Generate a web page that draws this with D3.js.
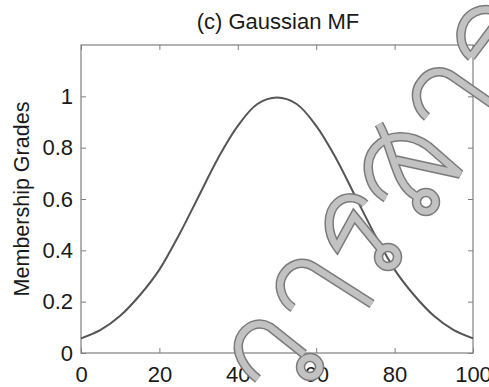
<!DOCTYPE html>
<html lang="en">
  <meta charset="UTF-8" />
  <title>Gaussian MF</title>
  <style>
    body { margin: 0; background: #fff; }
    text { font-family: "Liberation Sans", Arial, sans-serif; fill: #1a1a1a; }
  </style>
  <script src="https://d3js.org/d3.v7.min.js"></script>
  <body>
    <div id="chart"></div>
    <script>
      // values
      const xValues = [0, 5, 10, 15, 20, 25, 30, 35, 40, 45, 50, 55, 60, 65, 70, 75, 80, 85, 90, 95, 100];
      const grades = [0.057, 0.09, 0.145, 0.225, 0.325, 0.46, 0.61, 0.76, 0.885, 0.97, 0.995,
                      0.97, 0.885, 0.76, 0.61, 0.46, 0.325, 0.225, 0.145, 0.09, 0.057];
      const xTicks = [0, 20, 40, 60, 80, 100];
      const yTicks = [0, 0.2, 0.4, 0.6, 0.8, 1];
      const yTickLabels = ["0", "0.2", "0.4", "0.6", "0.8", "1"];

      var margin = { top: 45, right: 16, bottom: 34, left: 81 },
        width = 489 - margin.left - margin.right,
        height = 387 - margin.top - margin.bottom;

      var svg = d3.select("#chart").append("svg")
        .attr("width", 489).attr("height", 387);
      var g = svg.append("g")
        .attr("transform", "translate(" + margin.left + "," + margin.top + ")");

      var x = d3.scaleLinear().domain([0, 100]).range([0, width]);
      var y = d3.scaleLinear().domain([0, 1.2]).range([height, 0]);

      // box + inward ticks on all sides
      var axisColor = "#7f7f7f";
      function styleAxis(sel) {
        sel.select(".domain").remove();
        sel.selectAll(".tick line").attr("stroke", axisColor);
        sel.selectAll("text").style("font-size", "22px").attr("fill", "#1a1a1a");
      }
      g.append("g").attr("transform", "translate(0," + height + ")")
        .call(d3.axisBottom(x).tickValues(xTicks).tickSize(-5).tickPadding(13))
        .call(styleAxis);
      g.append("g")
        .call(d3.axisTop(x).tickValues(xTicks).tickSize(-5).tickFormat(""))
        .call(styleAxis);
      g.append("g")
        .call(d3.axisLeft(y).tickValues(yTicks).tickSize(-5).tickPadding(8)
          .tickFormat((d, i) => yTickLabels[i]))
        .call(styleAxis);
      g.append("g").attr("transform", "translate(" + width + ",0)")
        .call(d3.axisRight(y).tickValues(yTicks).tickSize(-5).tickFormat(""))
        .call(styleAxis);
      g.append("rect").attr("width", width).attr("height", height)
        .attr("fill", "none").attr("stroke", axisColor).attr("stroke-width", 1.2);

      // curve
      var line = d3.line()
        .x((d, i) => x(xValues[i]))
        .y((d) => y(d))
        .curve(d3.curveCatmullRom);
      g.append("path").datum(grades)
        .attr("d", line)
        .attr("fill", "none")
        .attr("stroke", "#555")
        .attr("stroke-width", 2);

      // title and y label
      svg.append("text").attr("x", 278).attr("y", 29)
        .attr("text-anchor", "middle").style("font-size", "22px")
        .text("(c) Gaussian MF");
      svg.append("text")
        .attr("transform", "translate(29,199) rotate(-90)")
        .attr("text-anchor", "middle").style("font-size", "21.5px")
        .text("Membership Grades");

      // watermark overlay (outlined grey strokes)
      var wmPaths = [
        "M258,379 C244,368 234,352 240,338 C246,326 258,320 270,327 L304,354",
        "M293,308 C281,300 277,285 283,275 C289,265 301,259 314,267 L372,304",
        "M365,204 C357,196 345,196 337,203 C327,212 326,232 337,247 L354,216 L381,249",
        "M379,124 C388,140 392,160 400,178 C406,190 412,195 419,197",
        "M386,198 C368,188 362,162 376,147 C388,134 410,133 428,146 L460,174 L396,160",
        "M471,57 C456,45 458,20 475,12 C485,7 495,10 500,15",
        "M471,57 L495,25",
        "M427,117 C416,108 413,92 421,82 C428,72 440,68 452,76 L495,106"
      ];
      var wmLoops = [[310, 367, 9.5], [388, 257, 9.5], [426, 202, 9.5]];
      var wm = svg.append("g");
      [["#7a7a7a", 9.5], ["#c2c2c2", 6.5]].forEach(function (s) {
        wm.selectAll(null).data(wmPaths).enter().append("path")
          .attr("d", (d) => d).attr("fill", "none")
          .attr("stroke", s[0]).attr("stroke-width", s[1]);
        wm.selectAll(null).data(wmLoops).enter().append("circle")
          .attr("cx", (d) => d[0]).attr("cy", (d) => d[1]).attr("r", (d) => d[2])
          .attr("fill", "none").attr("stroke", s[0]).attr("stroke-width", s[1]);
      });
    </script>
  </body>
</html>
